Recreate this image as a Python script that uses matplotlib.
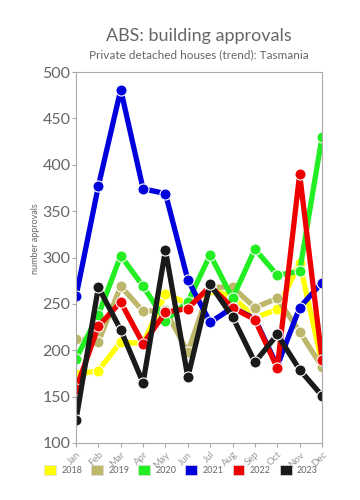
import matplotlib
matplotlib.use("Agg")
import matplotlib.pyplot as plt
from matplotlib.patches import Patch

plt.rcParams['font.family'] = ['Lato', 'DejaVu Sans']

months = ["Jan", "Feb", "Mar", "Apr", "May", "Jun", "Jul", "Aug", "Sep", "Oct", "Nov", "Dec"]
years = ["2018", "2019", "2020", "2021", "2022", "2023"]
y2018 = [174, 178, 209, 207, 261, 250, 265, 258, 235, 244, 294, 186]
y2019 = [212, 209, 269, 242, 243, 198, 268, 268, 246, 256, 220, 182]
y2020 = [191, 238, 302, 269, 232, 252, 303, 256, 309, 281, 285, 430]
y2021 = [258, 377, 481, 374, 369, 276, 230, 246, 234, 183, 246, 273]
y2022 = [158, 226, 252, 207, 241, 245, 269, 246, 233, 181, 390, 190]
y2023 = [125, 268, 222, 165, 308, 171, 271, 236, 187, 217, 179, 151]
series = [y2018, y2019, y2020, y2021, y2022, y2023]
colors = ["#ffff00", "#bdb76b", "#22ee22", "#0000dd", "#ee0000", "#1a1a1a"]

fig = plt.figure(figsize=(3.6, 5.0), dpi=100)
ax = fig.add_axes([76/360, 1-443/500, 246/360, 371/500])

x = list(range(len(months)))
for vals, c in zip(series, colors):
    ax.plot(x, vals, color=c, lw=3.8, marker='o', ms=8, mfc=c, mec='white', mew=0.8,
            solid_joinstyle='round', zorder=2)

ax.set_xlim(0, 11)
ax.set_ylim(100, 500)
ax.set_xticks(x)
ax.set_xticklabels(months, rotation=45, ha='right', rotation_mode='anchor', fontsize=7, color='#999999')
ax.set_yticks(range(100, 501, 50))
ax.tick_params(axis='y', labelsize=11.5, labelcolor='#666666', color='#aaaaaa', length=3, pad=1)
ax.tick_params(axis='x', color='#aaaaaa', length=3, pad=2)
for s in ax.spines.values():
    s.set_color('#aaaaaa')
    s.set_linewidth(0.8)
ax.set_ylabel("number approvals", fontsize=6.5, color='#666666')
ax.yaxis.set_label_coords((40 - 76) / 246, (443 - 239) / 371)

fig.text(199/360, 1-36/500, "ABS: building approvals", ha='center', va='center', fontsize=13, color='#666666')
fig.text(199/360, 1-55/500, "Private detached houses (trend): Tasmania", ha='center', va='center', fontsize=8.5, color='#666666')

handles = [Patch(facecolor=c, edgecolor='#dddddd', lw=0.5) for c in colors]
fig.legend(handles, years, loc='center', bbox_to_anchor=(181/360, 1-470/500), ncol=6,
           frameon=False, fontsize=6.5, handlelength=1.3, handleheight=1.3, columnspacing=1.0,
           handletextpad=0.6, labelcolor='#666666')

fig.savefig("out.png", dpi=100)
